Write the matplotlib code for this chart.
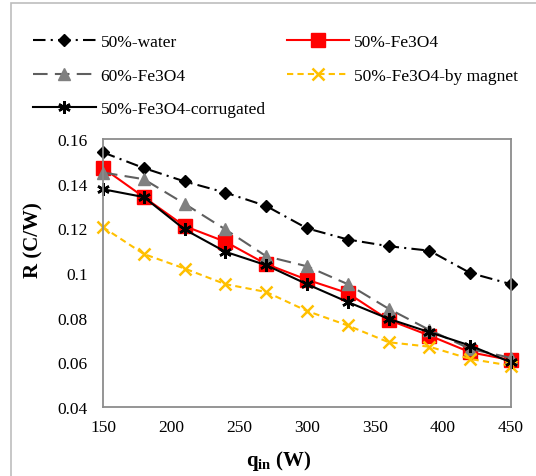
import matplotlib
matplotlib.use("Agg")
import matplotlib.pyplot as plt
from matplotlib.patches import Rectangle

plt.rcParams['font.family'] = ['Liberation Serif', 'DejaVu Serif']
plt.rcParams['mathtext.fontset'] = 'custom'
plt.rcParams['mathtext.rm'] = 'Liberation Serif'
plt.rcParams['mathtext.bf'] = 'Liberation Serif:bold'

q_in = [150, 180, 210, 240, 270, 300, 330, 360, 390, 420, 450]

r_water = [0.154, 0.147, 0.141, 0.136, 0.130, 0.120, 0.115, 0.112, 0.110, 0.100, 0.095]
r_fe50 = [0.147, 0.134, 0.121, 0.114, 0.104, 0.097, 0.091, 0.079, 0.072, 0.0645, 0.061]
r_fe60 = [0.145, 0.142, 0.131, 0.1195, 0.1075, 0.103, 0.095, 0.084, 0.0745, 0.066, 0.062]
r_magnet = [0.1205, 0.1085, 0.102, 0.095, 0.0915, 0.083, 0.0765, 0.069, 0.067, 0.0615, 0.0585]
r_corr = [0.1375, 0.134, 0.1195, 0.1095, 0.1035, 0.095, 0.087, 0.0795, 0.0735, 0.0675, 0.060]

x_ticks = [150, 200, 250, 300, 350, 400, 450]
y_ticks = [0.04, 0.06, 0.08, 0.1, 0.12, 0.14, 0.16]
y_ticklabels = ['0.04', '0.06', '0.08', '0.1', '0.12', '0.14', '0.16']

fig = plt.figure(figsize=(5.36, 4.77), dpi=100)
ax = fig.add_axes([103 / 536, 69 / 477, 408 / 536, 268 / 477])

# outer chart-area frame
fig.patches.append(Rectangle((11 / 536, -0.05), 1.2, (473 / 477) + 0.05,
                             transform=fig.transFigure, fill=False,
                             edgecolor='#bdbdbd', lw=1.2))

lw = 1.5
h_water, = ax.plot(q_in, r_water, color='black', lw=lw, ls=(0, (6, 2.5, 1, 2.5)),
                   marker='D', markersize=6.5, label='50%-water')
h_fe50, = ax.plot(q_in, r_fe50, color='#ff0000', lw=lw, ls='-',
                  marker='s', markersize=9.5, label='50%-Fe3O4')
h_fe60, = ax.plot(q_in, r_fe60, color='#5f5f5f', lw=lw, ls=(0, (7, 3.5)),
                  marker='^', markersize=9, markerfacecolor='#808080',
                  markeredgecolor='#808080', label='60%-Fe3O4')
h_mag, = ax.plot(q_in, r_magnet, color='#ffc000', lw=lw, ls=(0, (3, 2)),
                 marker='x', markersize=9, markeredgewidth=1.8,
                 label='50%-Fe3O4-by magnet')
h_corr, = ax.plot(q_in, r_corr, color='black', lw=lw, ls='-',
                  marker=(6, 2, 0), markersize=9, markeredgewidth=1.8,
                  label='50%-Fe3O4-corrugated')

ax.set_xlim(150, 450)
ax.set_ylim(0.04, 0.16)
ax.set_xticks(x_ticks)
ax.set_yticks(y_ticks)
ax.set_yticklabels(y_ticklabels)
ax.tick_params(length=0, labelsize=12.5)
ax.tick_params(axis='x', pad=9)
ax.tick_params(axis='y', pad=11)
for sp in ax.spines.values():
    sp.set_color('#8c8c8c')
    sp.set_linewidth(1.3)
for ln in ax.lines:
    ln.set_clip_on(False)

fig.text(33 / 536, 1 - 240 / 477, 'R (C/W)', rotation=90, fontsize=15,
         fontweight='bold', ha='center', va='center')
fig.text(279 / 536, 1 - 461 / 477, r'$\mathbf{q_{in}}$ (W)', fontsize=15,
         fontweight='bold', ha='center', va='center')

# legend fills column by column, so order handles to read row by row
handles = [h_water, h_fe60, h_corr, h_fe50, h_mag]
fig.legend(handles=handles, labels=[h.get_label() for h in handles],
           loc='upper left', bbox_to_anchor=(33 / 536, 1 - 35 / 477),
           ncol=2, frameon=False, fontsize=12.5, handlelength=3.6,
           handletextpad=0.3, columnspacing=1.2, labelspacing=1.0,
           borderpad=0, borderaxespad=0)

fig.savefig('out.png', dpi=100)
